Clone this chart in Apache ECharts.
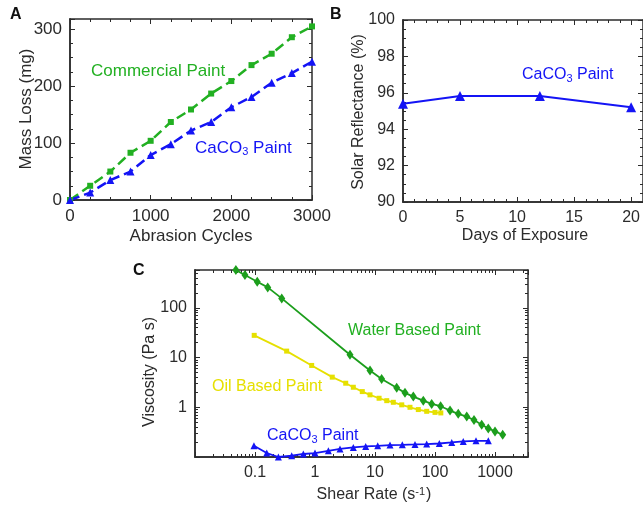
<!DOCTYPE html>
<html>
<head>
<meta charset="utf-8">
<script src="https://cdn.jsdelivr.net/npm/echarts@6/dist/echarts.min.js"></script>
<style>
  html, body { margin: 0; padding: 0; background: #fff; }
  #main { width: 643px; height: 507px; }
</style>
</head>
<body>
<div id="main"></div>
<script>
// panel A: abrasion test
const cycles = [0, 250, 500, 750, 1000, 1250, 1500, 1750, 2000, 2250, 2500, 2750, 3000];
const commercialLoss = [0, 25, 50, 83, 104, 137, 159, 187, 209, 237, 257, 286, 305];
const caco3Loss = [0, 13, 35, 50, 79, 98, 122, 137, 163, 181, 206, 223, 243];

// panel B: outdoor exposure
const days = [0, 5, 12, 20];
const reflectance = [95.4, 95.82, 95.82, 95.2];

// panel C: rheology
const waterRate = [0.048, 0.068, 0.109, 0.163, 0.279, 3.83, 8.26, 12.9, 23, 31.6, 43.5, 63.8, 88, 124, 178, 244, 338, 447, 600, 773, 1000, 1343];
const waterVisc = [575, 458, 335, 258, 155, 11.4, 5.5, 3.7, 2.47, 1.95, 1.64, 1.36, 1.17, 1.05, 0.86, 0.74, 0.65, 0.556, 0.447, 0.376, 0.327, 0.28];
const oilRate = [0.097, 0.337, 0.88, 1.94, 3.25, 4.35, 6.14, 8.25, 11.7, 15.7, 20.2, 27.9, 38.3, 52.7, 72.7, 100, 125];
const oilVisc = [28, 13.5, 6.95, 4.04, 3.05, 2.53, 2.07, 1.78, 1.52, 1.36, 1.26, 1.12, 1.0, 0.9, 0.83, 0.79, 0.77];
const caco3Rate = [0.096, 0.157, 0.245, 0.409, 0.638, 1, 1.67, 2.61, 4.35, 7.0, 11.1, 17.8, 28.5, 46.4, 72.7, 118, 190, 296, 482, 773];
const caco3Visc = [0.168, 0.12, 0.1, 0.106, 0.115, 0.12, 0.133, 0.145, 0.156, 0.163, 0.168, 0.174, 0.176, 0.179, 0.182, 0.187, 0.196, 0.206, 0.212, 0.212];

const font = '"Liberation Sans", Arial, sans-serif';
const ink = '#2b2b2b';
const green = '#22b022';
const greenDark = '#1c9e1c';
const blue = '#1414f5';
const yellow = '#e6e000';

const zip = (xs, ys) => xs.map((x, i) => [x, ys[i]]);

// labelled axis (bottom / left), ticks come from the overlay grid
function labelAxis(gridIndex, position, opts, fontSize) {
  return Object.assign({
    gridIndex: gridIndex,
    position: position,
    axisLine: { show: true, onZero: false, lineStyle: { color: ink, width: 1.5 } },
    axisTick: { show: false },
    minorTick: { show: false },
    splitLine: { show: false },
    axisLabel: {
      show: true, color: ink, fontFamily: font, fontSize: fontSize,
      showMaxLabel: opts.showMax, margin: 8,
      formatter: opts.formatter
    }
  }, opts.axis);
}

// tick-only axis of the box (all four sides), no labels
function tickAxis(gridIndex, position, opts) {
  return Object.assign({
    gridIndex: gridIndex,
    position: position,
    axisLine: { show: true, onZero: false, lineStyle: { color: ink, width: 1.5 } },
    axisTick: { show: true, inside: true, length: 5, lineStyle: { color: ink, width: 1 } },
    minorTick: { show: true, splitNumber: opts.minor, length: 3, lineStyle: { color: ink, width: 1 } },
    splitLine: { show: false },
    minorSplitLine: { show: false },
    axisLabel: { show: false }
  }, opts.axis);
}

const plain = (v) => String(v);
const logLabel = (lo, hi) => (v) => {
  const e = Math.log10(v);
  const r = Math.round(e);
  if (Math.abs(e - r) > 1e-6 || r < lo || r > hi) return '';
  return r < 0 ? Math.pow(10, r).toFixed(-r) : String(Math.pow(10, r));
};

const ax = {
  ax: { axis: { type: 'value', min: 0, max: 3000, interval: 1000 }, minor: 4, showMax: true, formatter: plain },
  ay: { axis: { type: 'value', min: 0, max: 318, interval: 100 }, minor: 4, showMax: false, formatter: plain },
  bx: { axis: { type: 'value', min: 0, max: 21, interval: 5 }, minor: 5, showMax: false, formatter: plain },
  by: { axis: { type: 'value', min: 90, max: 100, interval: 2 }, minor: 4, showMax: true, formatter: plain },
  cx: { axis: { type: 'log', logBase: 10, min: 0.01, max: 3548 }, minor: 9, showMax: false, formatter: logLabel(-1, 3) },
  cy: { axis: { type: 'log', logBase: 10, min: 0.1, max: 578 }, minor: 9, showMax: false, formatter: logLabel(0, 2) }
};

const rectA = { left: 70, top: 19, width: 242, height: 181 };
const rectB = { left: 403, top: 20, width: 243, height: 182 };
const rectC = { left: 195, top: 270, width: 333, height: 187 };

const chart = echarts.init(document.getElementById('main'));

const subRich = (size) => ({ s: { fontFamily: font, fontSize: size, fill: blue, verticalAlign: 'bottom', padding: [8, 0, 0, 0] } });

const option = {
  animation: false,
  backgroundColor: '#fff',
  // 0-2 labelled panels, 3-5 the same boxes again for the ticks
  grid: [rectA, rectB, rectC, rectA, rectB, rectC],
  xAxis: [
    labelAxis(0, 'bottom', ax.ax, 17), tickAxis(3, 'bottom', ax.ax), tickAxis(3, 'top', ax.ax),
    labelAxis(1, 'bottom', ax.bx, 16), tickAxis(4, 'bottom', ax.bx), tickAxis(4, 'top', ax.bx),
    labelAxis(2, 'bottom', ax.cx, 16), tickAxis(5, 'bottom', ax.cx), tickAxis(5, 'top', ax.cx)
  ],
  yAxis: [
    labelAxis(0, 'left', ax.ay, 17), tickAxis(3, 'left', ax.ay), tickAxis(3, 'right', ax.ay),
    labelAxis(1, 'left', ax.by, 16), tickAxis(4, 'left', ax.by), tickAxis(4, 'right', ax.by),
    labelAxis(2, 'left', ax.cy, 16), tickAxis(5, 'left', ax.cy), tickAxis(5, 'right', ax.cy)
  ],
  series: [
    {
      name: 'Commercial Paint', type: 'line', xAxisIndex: 0, yAxisIndex: 0,
      data: zip(cycles, commercialLoss), symbol: 'rect', symbolSize: 6,
      itemStyle: { color: green }, lineStyle: { color: green, width: 2.5, type: [10, 5] }, clip: false
    },
    {
      name: 'CaCO3 Paint A', type: 'line', xAxisIndex: 0, yAxisIndex: 0,
      data: zip(cycles, caco3Loss), symbol: 'triangle', symbolSize: 8,
      itemStyle: { color: blue }, lineStyle: { color: blue, width: 2.5, type: [10, 5] }, clip: false
    },
    {
      name: 'CaCO3 Paint B', type: 'line', xAxisIndex: 3, yAxisIndex: 3,
      data: zip(days, reflectance), symbol: 'triangle', symbolSize: 10,
      itemStyle: { color: blue }, lineStyle: { color: blue, width: 2 }, clip: false
    },
    {
      name: 'Water Based Paint', type: 'line', xAxisIndex: 6, yAxisIndex: 6,
      data: zip(waterRate, waterVisc), symbol: 'diamond', symbolSize: [7, 10],
      itemStyle: { color: greenDark }, lineStyle: { color: greenDark, width: 1.8 }, clip: false
    },
    {
      name: 'Oil Based Paint', type: 'line', xAxisIndex: 6, yAxisIndex: 6,
      data: zip(oilRate, oilVisc), symbol: 'rect', symbolSize: 5,
      itemStyle: { color: yellow }, lineStyle: { color: yellow, width: 1.8 }, clip: false
    },
    {
      name: 'CaCO3 Paint C', type: 'line', xAxisIndex: 6, yAxisIndex: 6,
      data: zip(caco3Rate, caco3Visc), symbol: 'triangle', symbolSize: 7,
      itemStyle: { color: blue }, lineStyle: { color: blue, width: 1.8 }, clip: false
    }
  ],
  graphic: [
    // panel letters
    { type: 'text', x: 10, y: 15, style: { text: 'A', fill: '#111', fontFamily: font, fontSize: 16, fontWeight: 'bold', verticalAlign: 'middle' } },
    { type: 'text', x: 330, y: 15, style: { text: 'B', fill: '#111', fontFamily: font, fontSize: 16, fontWeight: 'bold', verticalAlign: 'middle' } },
    { type: 'text', x: 133, y: 271, style: { text: 'C', fill: '#111', fontFamily: font, fontSize: 16, fontWeight: 'bold', verticalAlign: 'middle' } },
    // axis titles
    { type: 'text', x: 26, y: 109, rotation: Math.PI / 2, style: { text: 'Mass Loss (mg)', fill: ink, fontFamily: font, fontSize: 17, align: 'center', verticalAlign: 'middle' } },
    { type: 'text', x: 191, y: 236, style: { text: 'Abrasion Cycles', fill: ink, fontFamily: font, fontSize: 17, align: 'center', verticalAlign: 'middle' } },
    { type: 'text', x: 359, y: 112, rotation: Math.PI / 2, style: { text: 'Solar Reflectance (%)', fill: ink, fontFamily: font, fontSize: 16, align: 'center', verticalAlign: 'middle' } },
    { type: 'text', x: 525, y: 236, style: { text: 'Days of Exposure', fill: ink, fontFamily: font, fontSize: 16, align: 'center', verticalAlign: 'middle' } },
    { type: 'text', x: 150, y: 372, rotation: Math.PI / 2, style: { text: 'Viscosity (Pa s)', fill: ink, fontFamily: font, fontSize: 16, align: 'center', verticalAlign: 'middle' } },
    {
      type: 'text', x: 374, y: 495,
      style: {
        text: 'Shear Rate (s{p|-1})', fill: ink, fontFamily: font, fontSize: 16, align: 'center', verticalAlign: 'middle',
        rich: { p: { fontFamily: font, fontSize: 11, fill: ink, verticalAlign: 'top', padding: [0, 1, 6, 0] } }
      }
    },
    // series labels
    { type: 'text', x: 91, y: 71, style: { text: 'Commercial Paint', fill: green, fontFamily: font, fontSize: 17, verticalAlign: 'middle' } },
    { type: 'text', x: 195, y: 148, style: { text: 'CaCO{s|3} Paint', fill: blue, fontFamily: font, fontSize: 17, verticalAlign: 'middle', rich: subRich(11) } },
    { type: 'text', x: 522, y: 75, style: { text: 'CaCO{s|3} Paint', fill: blue, fontFamily: font, fontSize: 16, verticalAlign: 'middle', rich: subRich(11) } },
    { type: 'text', x: 348, y: 331, style: { text: 'Water Based Paint', fill: green, fontFamily: font, fontSize: 16, verticalAlign: 'middle' } },
    { type: 'text', x: 212, y: 387, style: { text: 'Oil Based Paint', fill: yellow, fontFamily: font, fontSize: 16, verticalAlign: 'middle' } },
    { type: 'text', x: 267, y: 436, style: { text: 'CaCO{s|3} Paint', fill: blue, fontFamily: font, fontSize: 16, verticalAlign: 'middle', rich: subRich(11) } }
  ]
};

chart.setOption(option);
</script>
</body>
</html>
